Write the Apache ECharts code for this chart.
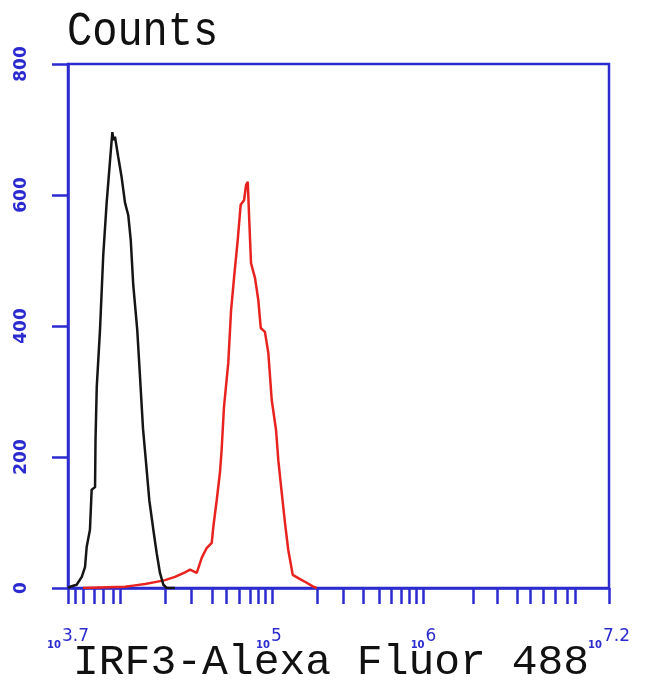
<!DOCTYPE html>
<html>
<head>
<meta charset="utf-8">
<script src="https://cdn.jsdelivr.net/npm/echarts@6/dist/echarts.min.js"></script>
<style>html,body{margin:0;padding:0;background:#fff;}#c{width:650px;height:693px;}</style>
</head>
<body>
<div id="c"></div>
<script>
// x values are log10(intensity)
const blackX = [3.700,3.713,3.756,3.789,3.810,3.821,3.842,3.853,3.875,3.878,3.886,3.907,3.928,3.950,3.972,3.987,3.994,4.004,4.025,4.047,4.069,4.090,4.106,4.122,4.148,4.166,4.185,4.205,4.226,4.252,4.274,4.295,4.317,4.339,4.392];
const blackY = [0,2,5,17,32,63,89,150,154,226,307,394,508,588,653,696,684,689,658,627,588,569,531,463,394,322,244,191,134,89,53,23,5,0,0];
const redX = [3.797,4.069,4.133,4.198,4.263,4.328,4.392,4.457,4.489,4.533,4.565,4.597,4.630,4.640,4.662,4.683,4.694,4.709,4.737,4.755,4.776,4.798,4.817,4.839,4.852,4.863,4.871,4.884,4.910,4.931,4.947,4.974,4.996,5.018,5.046,5.061,5.083,5.104,5.125,5.154,5.190,5.244,5.287,5.309];
const redY = [0,2,4,6,9,12,17,24,28,23,46,61,69,93,134,176,211,276,344,424,478,531,585,592,615,620,571,496,473,440,397,391,359,287,241,194,145,99,58,20,15,8,2,0];
const xTickValues = [3.700,3.745,3.797,3.868,3.926,3.991,4.036,4.328,4.496,4.632,4.722,4.806,4.877,4.929,4.974,5.020,5.311,5.479,5.608,5.712,5.790,5.854,5.906,5.951,5.997,6.320,6.475,6.605,6.689,6.773,6.851,6.928,6.980,7.200];
const xLabelValues = [3.7,5,6,7.2];
const xLabelExps = ['3.7','5','6','7.2'];
const yTickValues = [0,200,400,600,800];
const xTitle = 'IRF3-Alexa Fluor 488';
const yTitle = 'Counts';

const BLUE = '#2b2bcf';
const chart = echarts.init(document.getElementById('c'), null, {renderer:'canvas'});
const pair = (xs, ys) => xs.map((x, i) => [x, ys[i]]);
chart.setOption({
  animation: false,
  backgroundColor: '#ffffff',
  title: [
    {text: xTitle, left: 68, top: 636, textStyle: {fontFamily: 'Liberation Mono', fontSize: 43, fontWeight: 'normal', color: '#111'}}
  ],
  graphic: [
    {type: 'text', x: 67, y: 9, scaleY: 1.13, style: {text: yTitle, font: '42px "Liberation Mono"', fill: '#111', verticalAlign: 'top'}}
  ],
  grid: {left: 68, right: 41, top: 64, bottom: 105, show: true, borderColor: BLUE, borderWidth: 2.5, backgroundColor: 'transparent'},
  xAxis: {
    type: 'value', min: 3.7, max: 7.2,
    axisLine: {show: true, lineStyle: {color: BLUE, width: 2.5}},
    splitLine: {show: false},
    axisTick: {show: true, customValues: xTickValues, length: 16, inside: false, lineStyle: {color: BLUE, width: 2.5}},
    axisLabel: {
      show: true, customValues: xLabelValues, margin: 40, color: BLUE,
      showMinLabel: true, showMaxLabel: true,
      formatter: function (v) {
        const i = xLabelValues.findIndex(t => Math.abs(t - v) < 1e-6);
        const e = i >= 0 ? xLabelExps[i] : '';
        return i === 0 ? '{s|10}{f|' + e + '}' : '{s|10}{b|' + e + '}';
      },
      rich: {
        s: {fontFamily: 'DejaVu Sans', fontSize: 10, fontWeight: 'bold', color: BLUE, padding: [12, 1, 0, 0]},
        b: {fontFamily: 'DejaVu Sans', fontSize: 17, color: BLUE, padding: [0, 0, 6, 0]},
        f: {fontFamily: 'DejaVu Sans', fontSize: 17, color: BLUE, padding: [0, 0, 6, 0]}
      }
    }
  },
  yAxis: {
    type: 'value', min: 0, max: 800, interval: 200,
    axisLine: {show: true, lineStyle: {color: BLUE, width: 2.5}},
    splitLine: {show: false},
    axisTick: {show: true, length: 16, lineStyle: {color: BLUE, width: 2.5}},
    axisLabel: {show: true, rotate: 90, margin: 38, color: BLUE, fontFamily: 'DejaVu Sans', fontSize: 17, fontWeight: 'bold'}
  },
  series: [
    {type: 'line', data: pair(redX, redY), showSymbol: false, lineStyle: {color: '#e8221f', width: 2.5}, z: 3},
    {type: 'line', data: pair(blackX, blackY), showSymbol: false, lineStyle: {color: '#151515', width: 2.5}, z: 4}
  ]
});
</script>
</body>
</html>
